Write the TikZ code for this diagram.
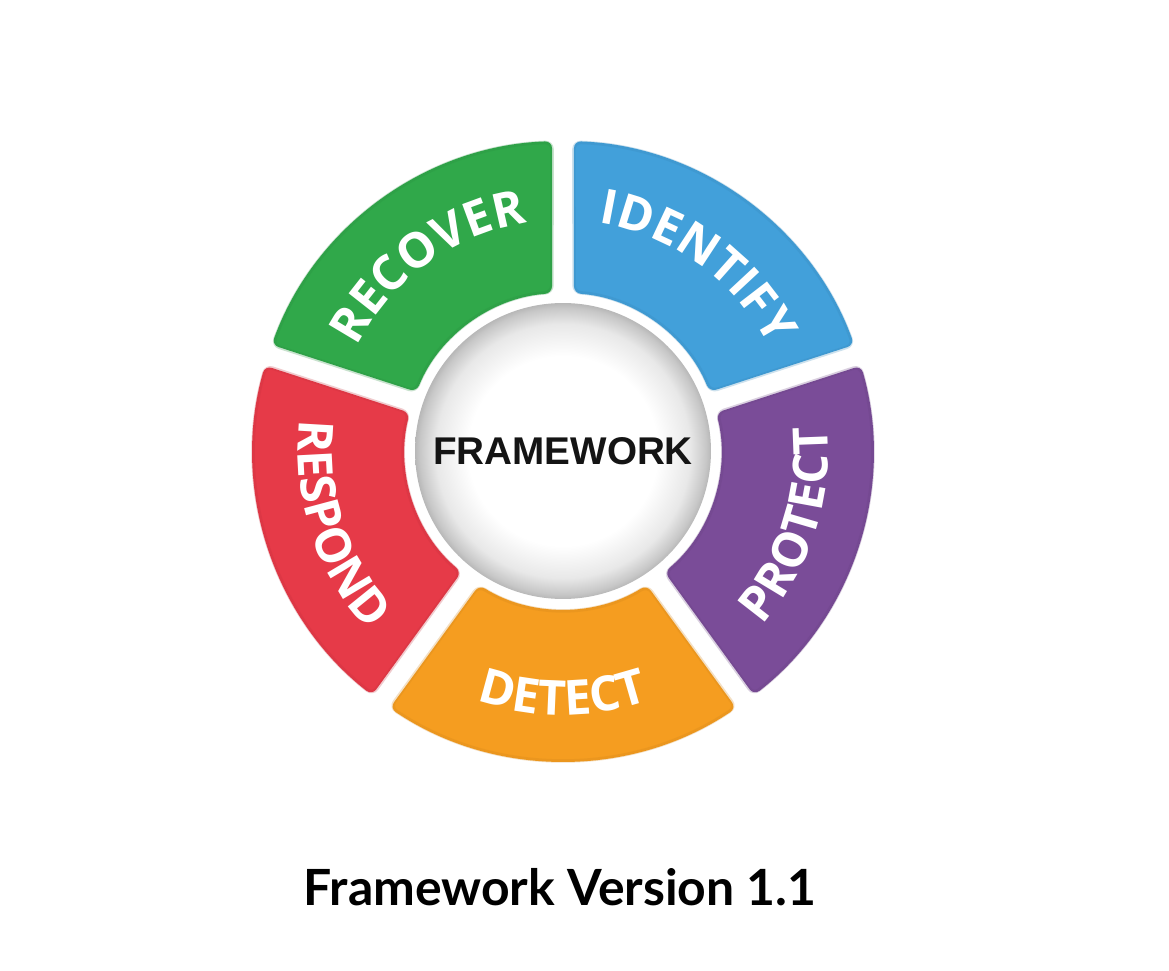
\documentclass[tikz,border=0pt]{standalone}
\usepackage{fontspec}
\setmainfont{Liberation Sans}
\newfontfamily\segfont{Open Sans}
\newfontfamily\titlefont{Lato}
\newfontfamily\hubfont{Liberation Sans}
\usetikzlibrary{decorations.text}
\definecolor{cIdentify}{RGB}{66,160,218}
\definecolor{cProtect}{RGB}{122,76,152}
\definecolor{cDetect}{RGB}{245,157,32}
\definecolor{cRespond}{RGB}{230,58,72}
\definecolor{cRecover}{RGB}{48,168,74}
\pgfdeclareradialshading{hubrim}{\pgfpoint{0bp}{0bp}}{color(0bp)=(white); color(16bp)=(white); color(21.5bp)=(black!9); color(24.2bp)=(black!22); color(25bp)=(black!28); color(50bp)=(black!28)}
\tikzset{
  seglabel/.style={decorate, decoration={text along path, text align=center, text color=white,
     text={|\segfont\bfseries\fontsize{27.5}{30}\selectfont|#1}}},
}
\begin{document}
\begin{tikzpicture}[x=0.02cm,y=0.02cm]
\useasboundingbox (-563,-519) rectangle (606,451);
\fill[white] (-563,-519) rectangle (606,451);
% segments: high angle / low angle / colour
\foreach \ha/\la/\col in {90/18/cIdentify, 18/-54/cProtect, -54/-126/cDetect, -126/-198/cRespond, -198/-270/cRecover}{
  \fill[\col, rounded corners=4]
    ({\la+2.03}:310) arc[start angle={\la+2.03}, end angle={\ha-2.03}, radius=310]
    -- ({\ha-3.99}:158) arc[start angle={\ha-3.99}, end angle={\la+3.99}, radius=158] -- cycle;
  \draw[\col!85!black, line width=2, opacity=0.25, rounded corners=4]
    ({\la+2.03}:309) arc[start angle={\la+2.03}, end angle={\ha-2.03}, radius=309]
    -- ({\ha-3.99}:159) arc[start angle={\ha-3.99}, end angle={\la+3.99}, radius=159] -- cycle;
}
% centre
\node[circle, minimum size=5.92cm, inner sep=0pt, shading=hubrim,
      font=\hubfont\bfseries\fontsize{22}{26}\selectfont, text=black!92] (hub) at (0,0) {FRAMEWORK};
% labels
\path[seglabel=IDENTIFY] (87:231) arc[start angle=87, end angle=21, radius=231];
\path[seglabel=RECOVER] (159:231) arc[start angle=159, end angle=93, radius=231];
\path[seglabel=PROTECT] (-51:265) arc[start angle=-51, end angle=15, radius=265];
\path[seglabel=DETECT] (-123:264) arc[start angle=-123, end angle=-57, radius=264];
\path[seglabel=RESPOND] (165:265) arc[start angle=165, end angle=231, radius=265];
% title
\node[font=\titlefont\bfseries\fontsize{28.4}{31}\selectfont, anchor=base] (title) at (-3,-454) {Framework Version 1.1};
\end{tikzpicture}
\end{document}
